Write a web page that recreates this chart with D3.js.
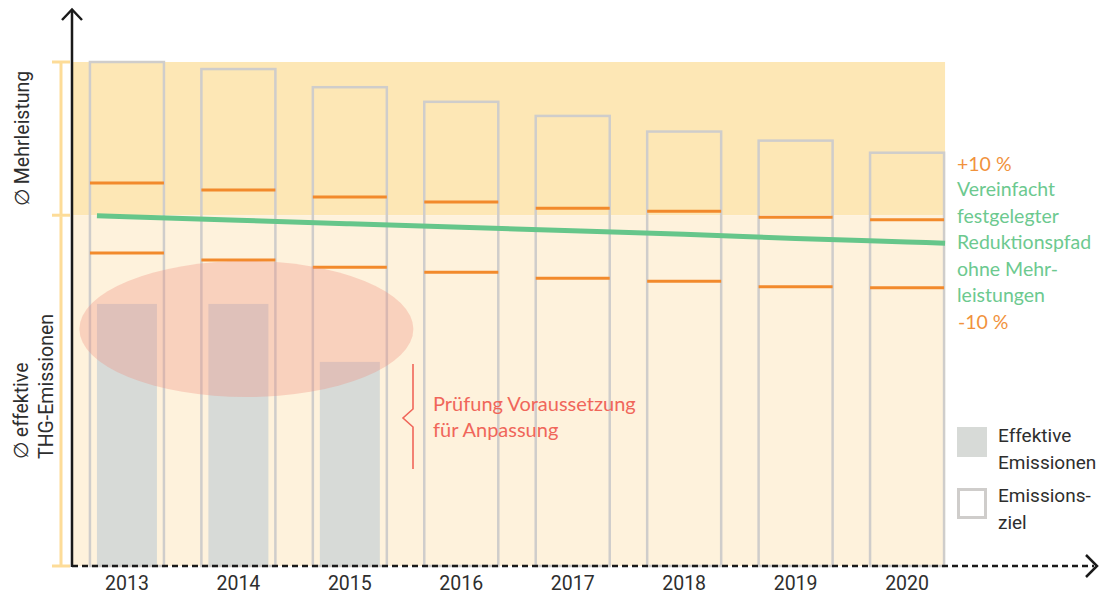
<!DOCTYPE html>
<html>
<head>
<meta charset="utf-8">
<script src="https://cdn.jsdelivr.net/npm/d3@7"></script>
<style>
  html, body { margin: 0; padding: 0; background: #ffffff; }
  svg { display: block; }
</style>
</head>
<body>
<svg id="chart" width="1099" height="595"></svg>
<script>
// ---------------- Data ----------------
const years = ["2013", "2014", "2015", "2016", "2017", "2018", "2019", "2020"];
// Emissionsziel (target) per year
const zielValues = [100, 98.6, 95.0, 92.1, 89.3, 86.2, 84.4, 82.0];
// +10 % and -10 % marks
const upperValues = [76.0, 74.6, 73.2, 72.2, 71.0, 70.4, 69.2, 68.7];
const lowerValues = [62.1, 60.7, 59.3, 58.3, 57.1, 56.5, 55.4, 55.2];
// simplified reduction path (green)
const pathValues = [69.3, 68.6, 67.9, 67.2, 66.5, 65.8, 65.0, 64.3];
// effective emissions
const effektivYears = ["2013", "2014", "2015"];
const effektivValues = [52.0, 52.0, 40.5];
// background bands
const bandTop = 100;
const bandSplit = 69.6;
// texts
const rightLabelsTop = ["+10 %"];
const rightLabelsMid = ["Vereinfacht", "festgelegter", "Reduktionspfad", "ohne Mehr-", "leistungen"];
const rightLabelsBottom = ["-10 %"];
const noteLines = ["Prüfung Voraussetzung", "für Anpassung"];
const legendLabels = [["Effektive", "Emissionen"], ["Emissions-", "ziel"]];

// ---------------- Layout ----------------
const svg = d3.select("#chart");
const axisX = 72, baseY = 566;
const x = d3.scaleBand().domain(years).range([53.5, 980.5]).padding(0.318);
const y = d3.scaleLinear().domain([0, 100]).range([baseY, 62]);
const bw = x.bandwidth();
const effW = 60;

const C = {
  bandUpper: "#fde7b5",
  bandLower: "#fef2dc",
  bracket: "#fddc98",
  ziel: "#cfcdcb",
  eff: "#d7dad7",
  orange: "#f28a2c",
  green: "#66c68a",
  greenText: "#6cc98f",
  orangeText: "#f1923c",
  red: "#f0665a",
  ellipse: "rgba(238,140,125,0.32)",
  text: "#2e2e2e"
};

const plotRight = x(years[years.length - 1]) + bw;

// background bands
svg.append("rect").attr("x", axisX).attr("y", y(bandTop))
  .attr("width", plotRight - axisX).attr("height", y(bandSplit) - y(bandTop))
  .attr("fill", C.bandUpper);
svg.append("rect").attr("x", axisX).attr("y", y(bandSplit))
  .attr("width", plotRight - axisX).attr("height", y(0) - y(bandSplit))
  .attr("fill", C.bandLower);

// left brackets
const bx = 61;
const brk = svg.append("g").attr("stroke", C.bracket).attr("stroke-width", 3).attr("fill", "none");
[[bandTop, bandSplit], [bandSplit, 0]].forEach(([a, b]) => {
  brk.append("line").attr("x1", bx).attr("x2", bx).attr("y1", y(a) + 1).attr("y2", y(b) - 1);
});
[bandTop, bandSplit, 0].forEach(v => {
  brk.append("line").attr("x1", 52).attr("x2", 70).attr("y1", y(v)).attr("y2", y(v));
});

// effective emission bars
svg.append("g").selectAll("rect").data(effektivYears.map((d, i) => ({ year: d, v: effektivValues[i] })))
  .join("rect")
  .attr("x", d => x(d.year) + (bw - effW) / 2)
  .attr("y", d => y(d.v))
  .attr("width", effW)
  .attr("height", d => y(0) - y(d.v))
  .attr("fill", C.eff);

// target outline bars
svg.append("g").selectAll("rect").data(years.map((d, i) => ({ year: d, v: zielValues[i] })))
  .join("rect")
  .attr("x", d => x(d.year) + 1)
  .attr("y", d => y(d.v))
  .attr("width", bw - 2)
  .attr("height", d => y(0) - y(d.v))
  .attr("fill", "none")
  .attr("stroke", C.ziel)
  .attr("stroke-width", 2.5);

// orange +-10% marks
const og = svg.append("g").attr("stroke", C.orange).attr("stroke-width", 3);
[upperValues, lowerValues].forEach(vals => {
  og.selectAll(null).data(years.map((d, i) => ({ year: d, v: vals[i] })))
    .join("line")
    .attr("x1", d => x(d.year) + 1)
    .attr("x2", d => x(d.year) + bw - 1)
    .attr("y1", d => y(d.v))
    .attr("y2", d => y(d.v));
});

// green reduction path
const pts = years.map((d, i) => [x(d) + bw / 2, y(pathValues[i])]);
const s0 = (pts[1][1] - pts[0][1]) / (pts[1][0] - pts[0][0]);
const n = pts.length;
const s1 = (pts[n - 1][1] - pts[n - 2][1]) / (pts[n - 1][0] - pts[n - 2][0]);
const startX = x(years[0]) + (bw - effW) / 2;
const endX = plotRight;
const linePts = [[startX, pts[0][1] + s0 * (startX - pts[0][0])], ...pts,
                 [endX, pts[n - 1][1] + s1 * (endX - pts[n - 1][0])]];
svg.append("path").attr("d", d3.line().curve(d3.curveMonotoneX)(linePts))
  .attr("fill", "none").attr("stroke", C.green).attr("stroke-width", 5);

// red ellipse
svg.append("ellipse")
  .attr("cx", (x("2013") + x("2015") + bw) / 2 + 8)
  .attr("cy", 329).attr("rx", 167).attr("ry", 68)
  .attr("fill", C.ellipse);

// brace
svg.append("path")
  .attr("d", "M413,364 L413,409 L403,418 L413,427 L413,469")
  .attr("fill", "none").attr("stroke", C.red).attr("stroke-width", 1.6);
svg.append("g").selectAll("text").data(noteLines).join("text")
  .attr("x", 433).attr("y", (d, i) => 411 + i * 26)
  .attr("fill", C.red)
  .attr("font-family", "Lato, 'Open Sans', sans-serif")
  .attr("font-size", 20)
  .text(d => d);

// axes
svg.append("line").attr("x1", axisX).attr("x2", axisX).attr("y1", 10).attr("y2", baseY + 1)
  .attr("stroke", "#1a1a1a").attr("stroke-width", 2.5);
svg.append("path").attr("d", "M62,20 L72,9.5 L82,20").attr("fill", "none")
  .attr("stroke", "#1a1a1a").attr("stroke-width", 2.5);
svg.append("line").attr("x1", axisX).attr("x2", 1094).attr("y1", baseY).attr("y2", baseY)
  .attr("stroke", "#1a1a1a").attr("stroke-width", 2.5).attr("stroke-dasharray", "6,4");
svg.append("path").attr("d", "M1086,555 L1097,566 L1086,577").attr("fill", "none")
  .attr("stroke", "#1a1a1a").attr("stroke-width", 2.5);

// x tick labels
const xAxis = d3.axisBottom(x).tickSize(0).tickPadding(0);
const gx = svg.append("g").attr("transform", `translate(0,${baseY})`).call(xAxis);
gx.select(".domain").remove();
gx.selectAll("text")
  .attr("y", 24)
  .attr("dy", 0)
  .attr("fill", C.text)
  .attr("font-family", "Roboto, sans-serif")
  .attr("font-size", 19.5);

// y labels (rotated)
const ylab = svg.append("g").attr("fill", C.text)
  .attr("font-family", "Roboto, sans-serif").attr("font-size", 19.5);
ylab.append("text").attr("transform", "translate(29,206) rotate(-90)").text("∅ Mehrleistung");
ylab.append("text").attr("transform", "translate(28,459) rotate(-90)").text("∅ effektive");
ylab.append("text").attr("transform", "translate(53,459) rotate(-90)").text("THG-Emissionen");

// right labels
const rl = svg.append("g").attr("font-family", "Lato, 'Open Sans', sans-serif").attr("font-size", 19.5);
rl.selectAll(null).data(rightLabelsTop).join("text")
  .attr("x", 957).attr("y", 171).attr("fill", C.orangeText).text(d => d);
rl.selectAll(null).data(rightLabelsMid).join("text")
  .attr("x", 957).attr("y", (d, i) => 196 + i * 26.6).attr("fill", C.greenText).text(d => d);
rl.selectAll(null).data(rightLabelsBottom).join("text")
  .attr("x", 958).attr("y", 329).attr("fill", C.orangeText).text(d => d);

// legend
const lg = svg.append("g");
lg.append("rect").attr("x", 957).attr("y", 427).attr("width", 30).attr("height", 30).attr("fill", C.eff);
lg.append("rect").attr("x", 958.5).attr("y", 489.5).attr("width", 27).attr("height", 28)
  .attr("fill", "#ffffff").attr("stroke", C.ziel).attr("stroke-width", 3);
legendLabels.forEach((lines, k) => {
  lines.forEach((t, i) => {
    lg.append("text").attr("x", 998).attr("y", 442 + k * 60 + i * 26.5)
      .attr("fill", C.text).attr("font-family", "Roboto, sans-serif").attr("font-size", 19)
      .text(t);
  });
});
</script>
</body>
</html>
